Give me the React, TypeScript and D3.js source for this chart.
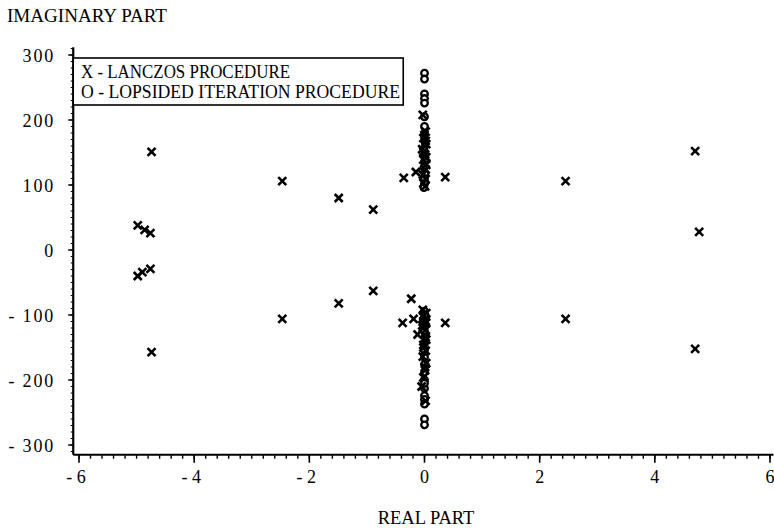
import React from "react";
import * as d3 from "d3";

// eigenvalue estimates, real part / imaginary part
const lanczosRe = [-4.74, -4.74, -4.98, -4.86, -4.76, -4.98, -4.9, -4.76, -2.47, -2.47, -1.49, -1.49, -0.89, -0.89, -0.36, -0.38, 0.36, 0.36, -0.23, -0.19, 2.45, 2.45, 4.7, 4.77, 4.7];
const lanczosIm = [151, -157, 38, 31, 26, -40, -34, -29, 106, -106, 80, -82, 62, -63, 111, -112, 112, -112, -75, -106, 106, -106, 152, 28, -152];

// the crowded column on the imaginary axis
const lanczosColRe = [-0.03, 0.02, -0.02, 0.03, -0.04, 0.01, -0.02, 0.03, -0.15, 0.02, -0.03, 0.02, -0.02, 0.01, 0, 0.02, -0.02, 0.03,
  -0.03, 0.03, -0.02, 0.02, -0.04, 0.02, -0.12, 0.03, -0.02, 0.02, -0.03, 0.03, 0.01, -0.02, -0.05, 0.02, -0.02, 0.03, -0.03, 0.02, -0.02, 0.01];
const lanczosColIm = [208, 182, 172, 163, 155, 147, 139, 131, 120, 124, 116, 109, 103, 98, 177, 168, 151, 143,
  -92, -97, -103, -109, -116, -123, -130, -138, -146, -155, -164, -174, -185, -196, -210, -232, -100, -112, -120, -134, -150, -180];

const lopsidedRe = [0, 0, 0, 0, 0, 0, 0, 0.01, -0.01, 0.01, 0, -0.01, 0.01, 0, 0, -0.01, 0, 0.01, 0, -0.01, 0, 0.01, 0, 0, 0, 0, 0, 0, 0, 0, 0, 0, 0, 0, 0, 0];
const lopsidedIm = [272, 263, 240, 233, 226, 190, 178, 166, 156, 146, 136, 127, 118, 110, 102, 96, -94, -100, -108, -116, -125, -134, -144, -154, -165, -176, -188, -200, -213, -224, -230, -237, -260, -269, 205, -205];

const xTickVals = [-6, -4, -2, 0, 2, 4, 6];
const xTickLabels = ["- 6", "- 4", "- 2", "0", "2", "4", "6"];
const yTickVals = [300, 200, 100, 0, -100, -200, -300];
const yTickLabels = ["300", "200", "100", "0", "- 100", "- 200", "- 300"];

const legendItems = ["X - LANCZOS PROCEDURE", "O - LOPSIDED ITERATION PROCEDURE"];

const font = "'Liberation Serif', 'Times New Roman', serif";

export default function App() {
  const x = d3.scaleLinear().domain([-6, 6]).range([79, 770]);
  const y = d3.scaleLinear().domain([-300, 300]).range([445, 55]);
  const x0 = x(-6.1);
  const x1 = x(6.06);
  const yBot = y(-315);
  const yTop = y(312);

  const cross = (cx: number, cy: number, key: string) => (
    <path key={key} d={`M${cx - 4},${cy - 4}L${cx + 4},${cy + 4}M${cx - 4},${cy + 4}L${cx + 4},${cy - 4}`}
      stroke="#000" strokeWidth={2.6} fill="none" />
  );

  const xMinor = d3.range(-6, 6.01, 0.2);
  const yMinor = d3.range(-310, 311, 10);

  return (
    <svg width={774} height={529} style={{ position: "absolute", left: 0, top: 0, background: "#fff" }}
      fontFamily={font}>
      <text x={7} y={22} fontSize={18.5} textLength={160} lengthAdjust="spacingAndGlyphs">IMAGINARY PART</text>
      <text x={426} y={524} fontSize={18.5} textAnchor="middle">REAL PART</text>

      {/* y axis */}
      <line x1={x0} x2={x0} y1={yTop} y2={yBot} stroke="#000" strokeWidth={2.2} />
      {yMinor.map((v) => (
        <line key={"ym" + v} x1={x0 - 2.5} x2={x0} y1={y(v)} y2={y(v)} stroke="#000" strokeWidth={1} />
      ))}
      {yTickVals.map((v, i) => (
        <g key={"yt" + v}>
          <line x1={x0 - 5} x2={x0} y1={y(v)} y2={y(v)} stroke="#000" strokeWidth={1.5} />
          <text x={55} y={y(v) + 6.5} fontSize={18} textAnchor="end" letterSpacing={1.8}>{yTickLabels[i]}</text>
        </g>
      ))}

      {/* x axis */}
      <line x1={x0} x2={x1} y1={yBot} y2={yBot} stroke="#000" strokeWidth={2.2} />
      {xMinor.map((v) => (
        <line key={"xm" + v.toFixed(1)} x1={x(v)} x2={x(v)} y1={yBot} y2={yBot + 4} stroke="#000" strokeWidth={1.4} />
      ))}
      {xTickVals.map((v, i) => (
        <g key={"xt" + v}>
          <line x1={x(v)} x2={x(v)} y1={yBot} y2={yBot + 8} stroke="#000" strokeWidth={1.6} />
          <text x={x(v) - (v < 0 ? 3 : 0)} y={483} fontSize={18} textAnchor="middle">{xTickLabels[i]}</text>
        </g>
      ))}

      {/* legend */}
      <rect x={x0} y={58} width={330} height={47} fill="#fff" stroke="#000" strokeWidth={1.6} />
      <text x={81} y={78} fontSize={19} textLength={209} lengthAdjust="spacingAndGlyphs">{legendItems[0]}</text>
      <text x={81} y={98} fontSize={19} textLength={319} lengthAdjust="spacingAndGlyphs">{legendItems[1]}</text>

      {/* points */}
      {lopsidedIm.map((v, i) => (
        <circle key={"o" + i} cx={x(lopsidedRe[i])} cy={y(v)} r={3.3} fill="#fff" stroke="#000" strokeWidth={2.3} />
      ))}
      {lanczosColIm.map((v, i) => cross(x(lanczosColRe[i]), y(v), "c" + i))}
      {lanczosIm.map((v, i) => cross(x(lanczosRe[i]), y(v), "l" + i))}
    </svg>
  );
}
